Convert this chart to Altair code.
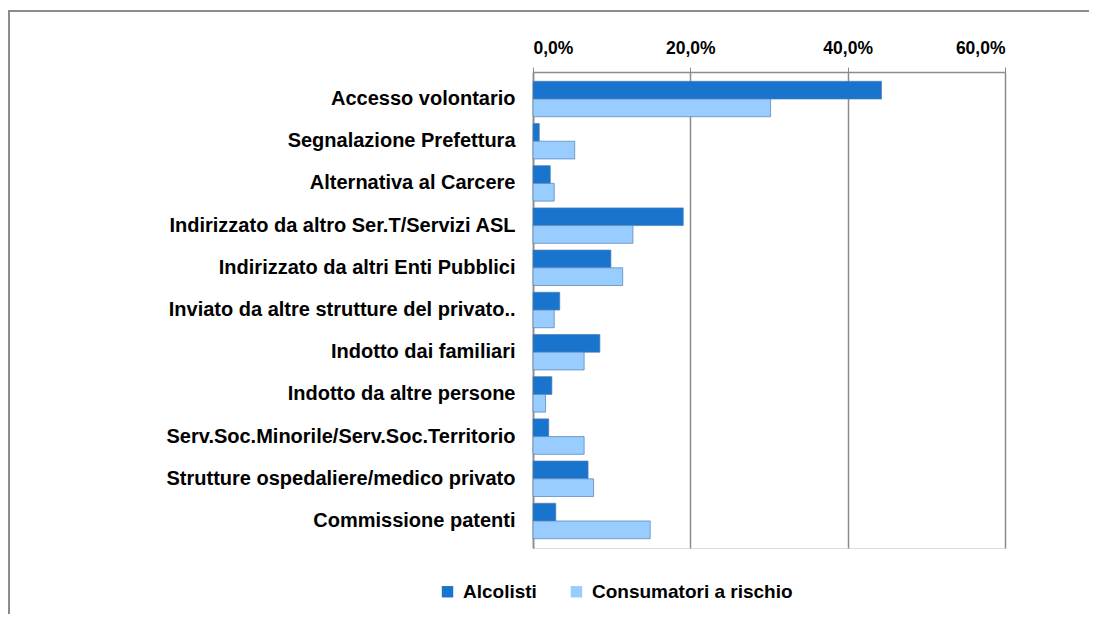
import altair as alt
import pandas as pd

categories = [
    "Accesso volontario",
    "Segnalazione Prefettura",
    "Alternativa al Carcere",
    "Indirizzato da altro Ser.T/Servizi ASL",
    "Indirizzato da altri Enti Pubblici",
    "Inviato da altre strutture del privato..",
    "Indotto dai familiari",
    "Indotto da altre persone",
    "Serv.Soc.Minorile/Serv.Soc.Territorio",
    "Strutture ospedaliere/medico privato",
    "Commissione patenti",
]
alcolisti = [44.3, 0.8, 2.2, 19.1, 9.9, 3.4, 8.5, 2.4, 2.0, 7.0, 2.9]
consumatori = [30.2, 5.3, 2.7, 12.7, 11.4, 2.7, 6.5, 1.6, 6.5, 7.7, 14.9]
series = ["Alcolisti", "Consumatori a rischio"]
colors = ["#1874cd", "#99ccff"]

rows = []
for c, a, r in zip(categories, alcolisti, consumatori):
    rows.append({"cat": c, "serie": series[0], "val": a})
    rows.append({"cat": c, "serie": series[1], "val": r})
df = pd.DataFrame(rows)

FONT = "Liberation Sans"

bars = alt.Chart(df).mark_bar(stroke="#4f7fb0", strokeWidth=0.7).encode(
    x=alt.X("val:Q",
            scale=alt.Scale(domain=[0, 60]),
            axis=alt.Axis(orient="top", values=[0, 20, 40, 60],
                          labelExpr="replace(format(datum.value, '.1f'), '.', ',') + '%'",
                          title=None, grid=True, gridColor="#8c8c8c", gridWidth=1.5,
                          domainColor="#8c8c8c", domainWidth=1.5,
                          tickColor="#8c8c8c", tickSize=5,
                          labelFont=FONT, labelFontSize=17.5, labelFontWeight="bold",
                          labelColor="#000000", labelPadding=10)),
    y=alt.Y("cat:N", sort=categories,
            scale=alt.Scale(paddingInner=0.16, paddingOuter=0.22),
            axis=alt.Axis(title=None, ticks=False, domainColor="#8c8c8c", domainWidth=1.5,
                          labelFont=FONT, labelFontSize=20, labelFontWeight="bold",
                          labelColor="#000000", labelPadding=18, labelLimit=520)),
    yOffset=alt.YOffset("serie:N", sort=series),
    color=alt.Color("serie:N", sort=series,
                    scale=alt.Scale(domain=series, range=colors),
                    legend=alt.Legend(title=None, orient="none", direction="horizontal",
                                      legendX=-95, legendY=510,
                                      symbolType="square", symbolSize=130,
                                      symbolStrokeWidth=0,
                                      labelFont=FONT, labelFontSize=19,
                                      labelFontWeight="bold", labelColor="#000000",
                                      labelLimit=400,
                                      columnPadding=30, labelOffset=6)),
)

frame = alt.Chart(pd.DataFrame({"k": [0]})).mark_rect(
    fill=None, stroke="#8c8c8c", strokeWidth=2
).encode(
    x=alt.value(-524), x2=alt.value(472 + 200),
    y=alt.value(-61), y2=alt.value(476 + 200),
)

chart = alt.layer(frame, bars).properties(
    width=472, height=476,
    autosize=alt.AutoSizeParams(type="none"),
    padding={"left": 525, "top": 64, "right": 84, "bottom": 66},
).configure_view(stroke=None).configure(background="#ffffff")

chart.save("out.html", embed_options={"renderer": "svg", "actions": False})
